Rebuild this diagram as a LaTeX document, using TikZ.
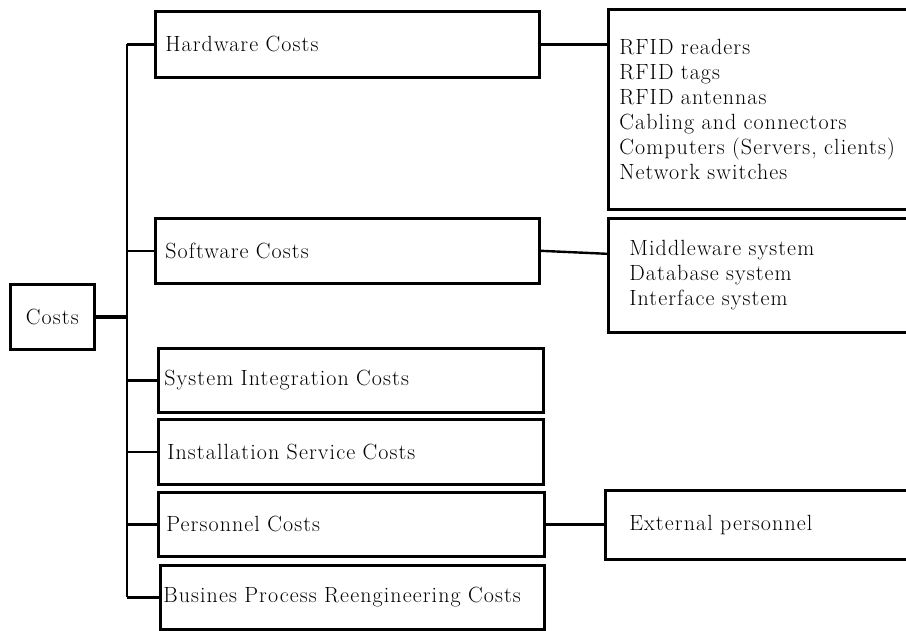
\documentclass[tikz,border=0pt]{standalone}
\usepackage{fontspec}
\setmainfont{Latin Modern Roman}[LetterSpace=5]
\begin{document}
\begin{tikzpicture}[x=1pt,y=-1pt,
  box/.style={draw, line width=2.6pt, rectangle, inner ysep=0pt, anchor=north west,
    font=\fontsize{22}{25}\selectfont, align=left},
  conn/.style={line width=2.4pt}]
\useasboundingbox (0,0) rectangle (906,630);
\clip (0,0) rectangle (906,630);

% root
\node[box, minimum width=84pt, minimum height=65pt, inner xsep=0pt, align=center] (costs) at (9,283) {Costs};

% first-level cost categories
\node[box, minimum width=384pt, minimum height=66pt, inner xsep=10pt, text width=364pt] (hw) at (154,10) {Hardware Costs};
\node[box, minimum width=384pt, minimum height=65pt, inner xsep=10pt, text width=364pt] (sw) at (154,217) {Software Costs};
\node[box, minimum width=385pt, minimum height=64pt, inner xsep=6pt, text width=373pt] (si) at (157,347) {System Integration Costs};
\node[box, minimum width=385pt, minimum height=65pt, inner xsep=9pt, text width=367pt] (is) at (157,418) {Installation Service Costs};
\node[box, minimum width=386pt, minimum height=64pt, inner xsep=8pt, text width=370pt] (pc) at (157,491) {Personnel Costs};
\node[box, minimum width=384pt, minimum height=64pt, inner xsep=3pt, text width=378pt] (bp) at (159,564) {Busines Process Reengineering Costs};

% detail boxes
\node[box, minimum width=320pt, minimum height=200pt, inner xsep=11pt, text width=298pt] (rfid) at (607,8)
  {RFID readers\\RFID tags\\RFID antennas\\Cabling and connectors\\Computers (Servers, clients)\\Network switches};
\node[box, minimum width=320pt, minimum height=114pt, inner xsep=21pt, text width=278pt] (mw) at (607,217)
  {Middleware system\\Database system\\Interface system};
\node[box, minimum width=320pt, minimum height=69pt, inner xsep=24pt, text width=272pt] (ext) at (604,489)
  {External personnel};

% trunk and branches
\coordinate (trunk) at (127,0);
\draw[conn, line width=2.8pt] (hw.west -| trunk) -- (bp.west -| trunk);
\draw[conn, line width=4.2pt] (costs.east) -- (costs.east -| trunk);
\foreach \n in {hw,sw,si,is,pc,bp}
  \draw[conn] (\n.west -| trunk) -- (\n.west);

% links to detail boxes
\draw[conn] (hw.east) -- (hw.east -| rfid.west);
\draw[conn] (sw.east) -- ([yshift=-3pt]sw.east -| mw.west);
\draw[conn] (pc.east) -- (pc.east -| ext.west);
\end{tikzpicture}
\end{document}
